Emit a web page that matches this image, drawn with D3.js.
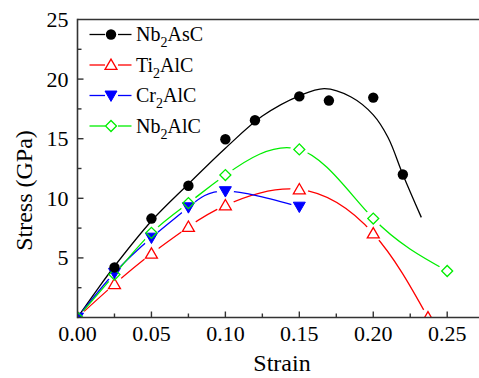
<!DOCTYPE html>
<html>
<head>
<meta charset="utf-8">
<script src="https://cdn.jsdelivr.net/npm/d3@7"></script>
<style>
  svg.fig text, svg.fig tspan { font-family: "Liberation Serif", monospace !important; }
</style>
</head>
<body style="margin:0">
<svg id="fig" class="fig" width="479" height="378"></svg>
<script>
// ---------------- data ----------------
const xTickLabels = ["0.00", "0.05", "0.10", "0.15", "0.20", "0.25"];
const yTickLabels = ["5", "10", "15", "20", "25"];

// Nb2AsC points (filled circles) and its fitted curve
const nb2ascStrain = [0.025, 0.05, 0.075, 0.1, 0.12, 0.15, 0.17, 0.2, 0.22];
const nb2ascStress = [4.2, 8.3, 11.05, 14.95, 16.55, 18.55, 18.2, 18.45, 12.0];
const nb2ascFitStrain = [0, 0.0125, 0.025, 0.05, 0.075, 0.1, 0.125, 0.15, 0.167, 0.185, 0.2, 0.21, 0.22, 0.2325];
const nb2ascFitStress = [0, 2.2, 4.3, 8.1, 11.2, 14.2, 16.9, 18.6, 19.2, 18.5, 17.0, 15.1, 12.0, 8.4];

// Ti2AlC (open triangles)
const ti2alcStrain = [0, 0.025, 0.05, 0.075, 0.1, 0.15, 0.2, 0.237];
const ti2alcStress = [0, 2.8, 5.35, 7.6, 9.4, 10.75, 7.05, 0];

// Cr2AlC (filled down triangles)
const cr2alcStrain = [0, 0.025, 0.05, 0.075, 0.1, 0.15];
const cr2alcStress = [0, 3.75, 6.7, 9.25, 10.6, 9.3];

// Nb2AlC (open diamonds)
const nb2alcStrain = [0, 0.025, 0.05, 0.075, 0.1, 0.15, 0.2, 0.25];
const nb2alcStress = [0, 3.6, 7.1, 9.6, 11.95, 14.1, 8.3, 3.9];

const seriesNames = ["Nb\u2082AsC", "Ti\u2082AlC", "Cr\u2082AlC", "Nb\u2082AlC"];
const seriesColors = ["#000000", "#ff0000", "#0000ff", "#00ee00"];

// ---------------- chart ----------------
const FONT = '"Liberation Serif", monospace';
const svg = d3.select("#fig").attr("font-family", "Liberation Serif");
const x = d3.scaleLinear().domain([0, 0.2715]).range([77.5, 479]);
const y = d3.scaleLinear().domain([0, 25]).range([317.5, 19.5]);

const zip = (xs, ys) => xs.map((v, i) => [v, ys[i]]);

const defs = svg.append("defs");
defs.append("clipPath").attr("id", "plotclip")
  .append("rect").attr("x", x(0)).attr("y", y(25)).attr("width", x(0.2715) - x(0)).attr("height", y(0) - y(25));

const plot = svg.append("g").attr("clip-path", "url(#plotclip)");

const lineGen = d3.line().x(d => x(d[0])).y(d => y(d[1]));

const sym = {
  circle: d3.symbol().type(d3.symbolCircle).size(Math.PI * 5.2 * 5.2),
  triUp: d3.symbol().type(d3.symbolTriangle).size(62),
  triDown: d3.symbol().type(d3.symbolTriangle).size(62),
  diamond: d3.symbol().type(d3.symbolSquare).size(60)
};

function drawMarker(g, kind, cx, cy, color) {
  if (kind === "circle") {
    g.append("path").attr("d", sym.circle()).attr("transform", `translate(${cx},${cy})`).attr("fill", color);
  } else if (kind === "triUp") {
    g.append("path").attr("d", sym.triUp()).attr("transform", `translate(${cx},${cy + 1})`)
      .attr("fill", "none").attr("stroke", color).attr("stroke-width", 1.3);
  } else if (kind === "triDown") {
    g.append("path").attr("d", sym.triDown()).attr("transform", `translate(${cx},${cy - 1}) rotate(180)`)
      .attr("fill", color).attr("stroke", color).attr("stroke-width", 1);
  } else if (kind === "diamond") {
    g.append("path").attr("d", sym.diamond()).attr("transform", `translate(${cx},${cy}) rotate(45)`)
      .attr("fill", "none").attr("stroke", color).attr("stroke-width", 1.3);
  }
}

function drawSeries(id, pts, color, kind, curve, gap) {
  const mask = defs.append("mask").attr("id", id).attr("maskUnits", "userSpaceOnUse")
    .attr("x", 0).attr("y", 0).attr("width", 479).attr("height", 378);
  mask.append("rect").attr("x", 0).attr("y", 0).attr("width", 479).attr("height", 378).attr("fill", "#fff");
  pts.forEach(p => mask.append("circle").attr("cx", x(p[0])).attr("cy", y(p[1])).attr("r", gap).attr("fill", "#000"));
  plot.append("path").attr("d", lineGen.curve(curve)(pts))
    .attr("fill", "none").attr("stroke", color).attr("stroke-width", 1.3).attr("mask", `url(#${id})`);
  const mg = plot.append("g");
  pts.forEach(p => drawMarker(mg, kind, x(p[0]), y(p[1]), color));
}

const fitPts = zip(nb2ascFitStrain, nb2ascFitStress);
plot.append("path").attr("d", d3.line().x(d => x(d[0])).y(d => y(d[1])).curve(d3.curveCatmullRom)(fitPts))
  .attr("fill", "none").attr("stroke", "#000").attr("stroke-width", 1.3);

drawSeries("m-ti", zip(ti2alcStrain, ti2alcStress), seriesColors[1], "triUp", d3.curveNatural, 9);
drawSeries("m-cr", zip(cr2alcStrain, cr2alcStress), seriesColors[2], "triDown", d3.curveNatural, 8.5);
drawSeries("m-nb", zip(nb2alcStrain, nb2alcStress), seriesColors[3], "diamond", d3.curveNatural, 9);

const blackG = plot.append("g");
zip(nb2ascStrain, nb2ascStress).forEach(p => drawMarker(blackG, "circle", x(p[0]), y(p[1]), "#000"));

// ---------------- axes ----------------
const axisColor = "#333";
const ax = svg.append("g");
ax.append("line").attr("x1", x(0)).attr("x2", 479).attr("y1", y(0)).attr("y2", y(0)).attr("stroke", axisColor).attr("stroke-width", 1.6);
ax.append("line").attr("x1", x(0)).attr("x2", 479).attr("y1", y(25)).attr("y2", y(25)).attr("stroke", axisColor).attr("stroke-width", 1.6);
ax.append("line").attr("x1", x(0)).attr("x2", x(0)).attr("y1", y(0) + 0.8).attr("y2", y(25) - 0.8).attr("stroke", axisColor).attr("stroke-width", 1.6);

const xMajor = xTickLabels.map(Number);
const xMinor = d3.range(0.025, 0.27, 0.05);
xMajor.forEach((v, i) => {
  if (v > 0) ax.append("line").attr("x1", x(v)).attr("x2", x(v)).attr("y1", y(0)).attr("y2", y(0) - 6).attr("stroke", axisColor).attr("stroke-width", 1.4);
  ax.append("text").attr("x", x(v)).attr("y", 341).attr("text-anchor", "middle").attr("font-size", 22).style("font-family", FONT).text(xTickLabels[i]);
});
xMinor.forEach(v => {
  ax.append("line").attr("x1", x(v)).attr("x2", x(v)).attr("y1", y(0)).attr("y2", y(0) - 4).attr("stroke", axisColor).attr("stroke-width", 1.4);
});

const yMajor = yTickLabels.map(Number);
const yMinor = d3.range(2.5, 25, 5);
yMajor.forEach((v, i) => {
  if (v < 25) ax.append("line").attr("x1", x(0)).attr("x2", x(0) + 6).attr("y1", y(v)).attr("y2", y(v)).attr("stroke", axisColor).attr("stroke-width", 1.4);
  ax.append("text").attr("x", 68.5).attr("y", y(v) + 7.5).attr("text-anchor", "end").attr("font-size", 22).style("font-family", FONT).text(yTickLabels[i]);
});
yMinor.forEach(v => {
  ax.append("line").attr("x1", x(0)).attr("x2", x(0) + 4).attr("y1", y(v)).attr("y2", y(v)).attr("stroke", axisColor).attr("stroke-width", 1.4);
});

svg.append("text").attr("x", 282).attr("y", 371).attr("text-anchor", "middle").attr("font-size", 24).style("font-family", FONT).text("Strain");
svg.append("text").attr("transform", "translate(31.5,190.5) rotate(-90)").attr("text-anchor", "middle").attr("font-size", 24).style("font-family", FONT).text("Stress (GPa)");

// ---------------- legend ----------------
const legendKinds = ["circle", "triUp", "triDown", "diamond"];
const legendY = [34.5, 65, 95.5, 126];
const lg = svg.append("g");
seriesNames.forEach((name, i) => {
  const cy = legendY[i];
  const c = seriesColors[i];
  lg.append("line").attr("x1", 89.5).attr("x2", 105).attr("y1", cy).attr("y2", cy).attr("stroke", c).attr("stroke-width", 1.3);
  lg.append("line").attr("x1", 118).attr("x2", 131.5).attr("y1", cy).attr("y2", cy).attr("stroke", c).attr("stroke-width", 1.3);
  drawMarker(lg, legendKinds[i], 111, cy, c);
  const parts = name.split("\u2082");
  const t = lg.append("text").attr("x", 136).attr("y", cy + 6.8).attr("font-size", 20).style("font-family", FONT);
  t.append("tspan").text(parts[0]);
  t.append("tspan").attr("dy", 6).attr("font-size", 14).text("2");
  t.append("tspan").attr("dy", -6).text(parts[1]);
});
</script>
</body>
</html>
